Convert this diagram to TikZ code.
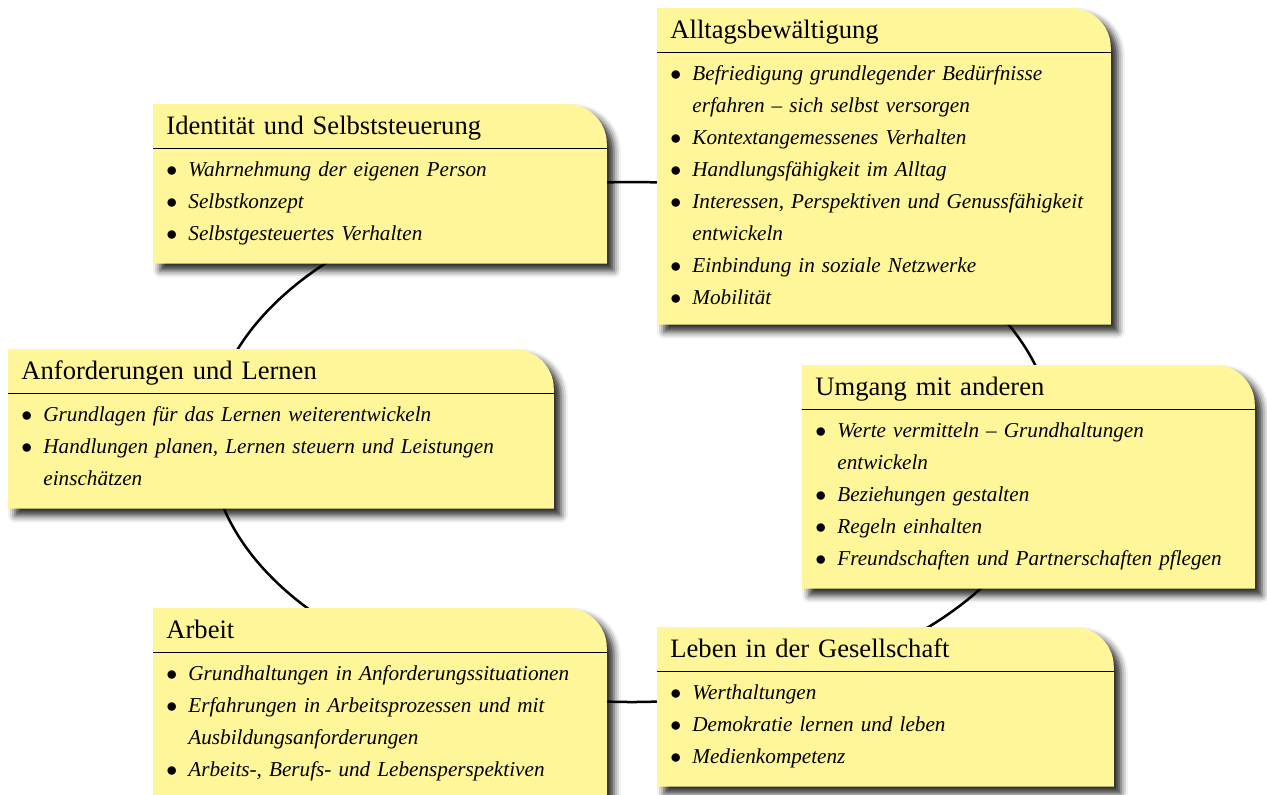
\documentclass[tikz,border=0pt]{standalone}
\usepackage{fontspec}
\setmainfont{Liberation Serif}
\usetikzlibrary{backgrounds,shadows.blur}

\definecolor{notizgelb}{RGB}{255,246,153}
\newcommand{\punkt}[1]{\hyphenpenalty=10000\noindent\hangindent=11pt\hangafter=1\makebox[11pt][l]{$\bullet$}#1\par}

\tikzset{
  titel/.style={anchor=north west, inner xsep=6.5pt, inner ysep=0pt, minimum height=22pt,
    text height=10pt, text depth=2pt, align=left, font=\fontsize{13.3}{16}\selectfont},
  liste/.style={anchor=north west, inner xsep=6.5pt, inner ysep=0pt, text height=13.5pt,
    align=left, font=\fontsize{10.6}{16}\selectfont\itshape},
  kasten/.style={fill=notizgelb, blur shadow={shadow xshift=3.5pt, shadow yshift=-3.5pt,
    shadow blur radius=3.5pt, shadow opacity=85}},
  trenn/.style={draw=black, line width=0.6pt},
  ring/.style={draw=black, line width=1.25pt}
}

\begin{document}
\begin{tikzpicture}[x=0.5pt, y=-0.5pt]
		\useasboundingbox (0,0) rectangle (1267,794);
		\coordinate (mitte) at (632,442);

		% Titel der Bereiche
		\node[titel, text width=213.5pt] (ident) at (153,104) {Identität und Selbststeuerung};
		\node[titel, text width=213.5pt] (alltag) at (657,8) {Alltagsbewältigung};
		\node[titel, text width=259.5pt] (anford) at (8,349) {Anforderungen und Lernen};
		\node[titel, text width=213pt] (umgang) at (802,365) {Umgang mit anderen};
		\node[titel, text width=213.5pt] (arbeit) at (153,608) {Arbeit};
		\node[titel, text width=215pt] (leben) at (657,627) {Leben in der Gesellschaft};

		% Punkte
		\node[liste, text width=220pt, text depth=43.5pt] (ident-l) at (ident.south west) {%
			\punkt{Wahrnehmung der eigenen Person}
			\punkt{Selbstkonzept}
			\punkt{Selbstgesteuertes Verhalten}};
		\node[liste, text width=220pt, text depth=122pt] (alltag-l) at (alltag.south west) {%
			\punkt{Befriedigung grundlegender Bedürfnisse\newline erfahren – sich selbst versorgen}
			\punkt{Kontextangemessenes Verhalten}
			\punkt{Handlungsfähigkeit im Alltag}
			\punkt{Interessen, Perspektiven und Genussfähigkeit\newline entwickeln}
			\punkt{Einbindung in soziale Netzwerke}
			\punkt{Mobilität}};
		\node[liste, text width=265pt, text depth=43.5pt] (anford-l) at (anford.south west) {%
			\punkt{Grundlagen für das Lernen weiterentwickeln}
			\punkt{Handlungen planen, Lernen steuern und Leistungen\newline einschätzen}};
		\node[liste, text width=220pt, text depth=75.5pt] (umgang-l) at (umgang.south west) {%
			\punkt{Werte vermitteln – Grundhaltungen\newline entwickeln}
			\punkt{Beziehungen gestalten}
			\punkt{Regeln einhalten}
			\punkt{Freundschaften und Partnerschaften pflegen}};
		\node[liste, text width=220pt, text depth=59.5pt] (arbeit-l) at (arbeit.south west) {%
			\punkt{Grundhaltungen in Anforderungssituationen}
			\punkt{Erfahrungen in Arbeitsprozessen und mit\newline Ausbildungsanforderungen}
			\punkt{Arbeits-, Berufs- und Lebensperspektiven}};
		\node[liste, text width=220pt, text depth=43.5pt] (leben-l) at (leben.south west) {%
			\punkt{Werthaltungen}
			\punkt{Demokratie lernen und leben}
			\punkt{Medienkompetenz}};

		\begin{scope}[on background layer]
			\draw[ring] (mitte) ellipse [x radius=422, y radius=260];
			\foreach \b in {ident,alltag,anford,umgang,arbeit,leben} {
				\fill[kasten] (\b.south west) -- (\b.north west) -- ([xshift=-20pt]\b.north east)
					arc[start angle=90, end angle=0, radius=20pt] -- (\b.east |- \b-l.south) -- (\b-l.south west) -- cycle;
				\draw[trenn] (\b.south west) -- (\b.south east);
			}
		\end{scope}
	\end{tikzpicture}
\end{document}
